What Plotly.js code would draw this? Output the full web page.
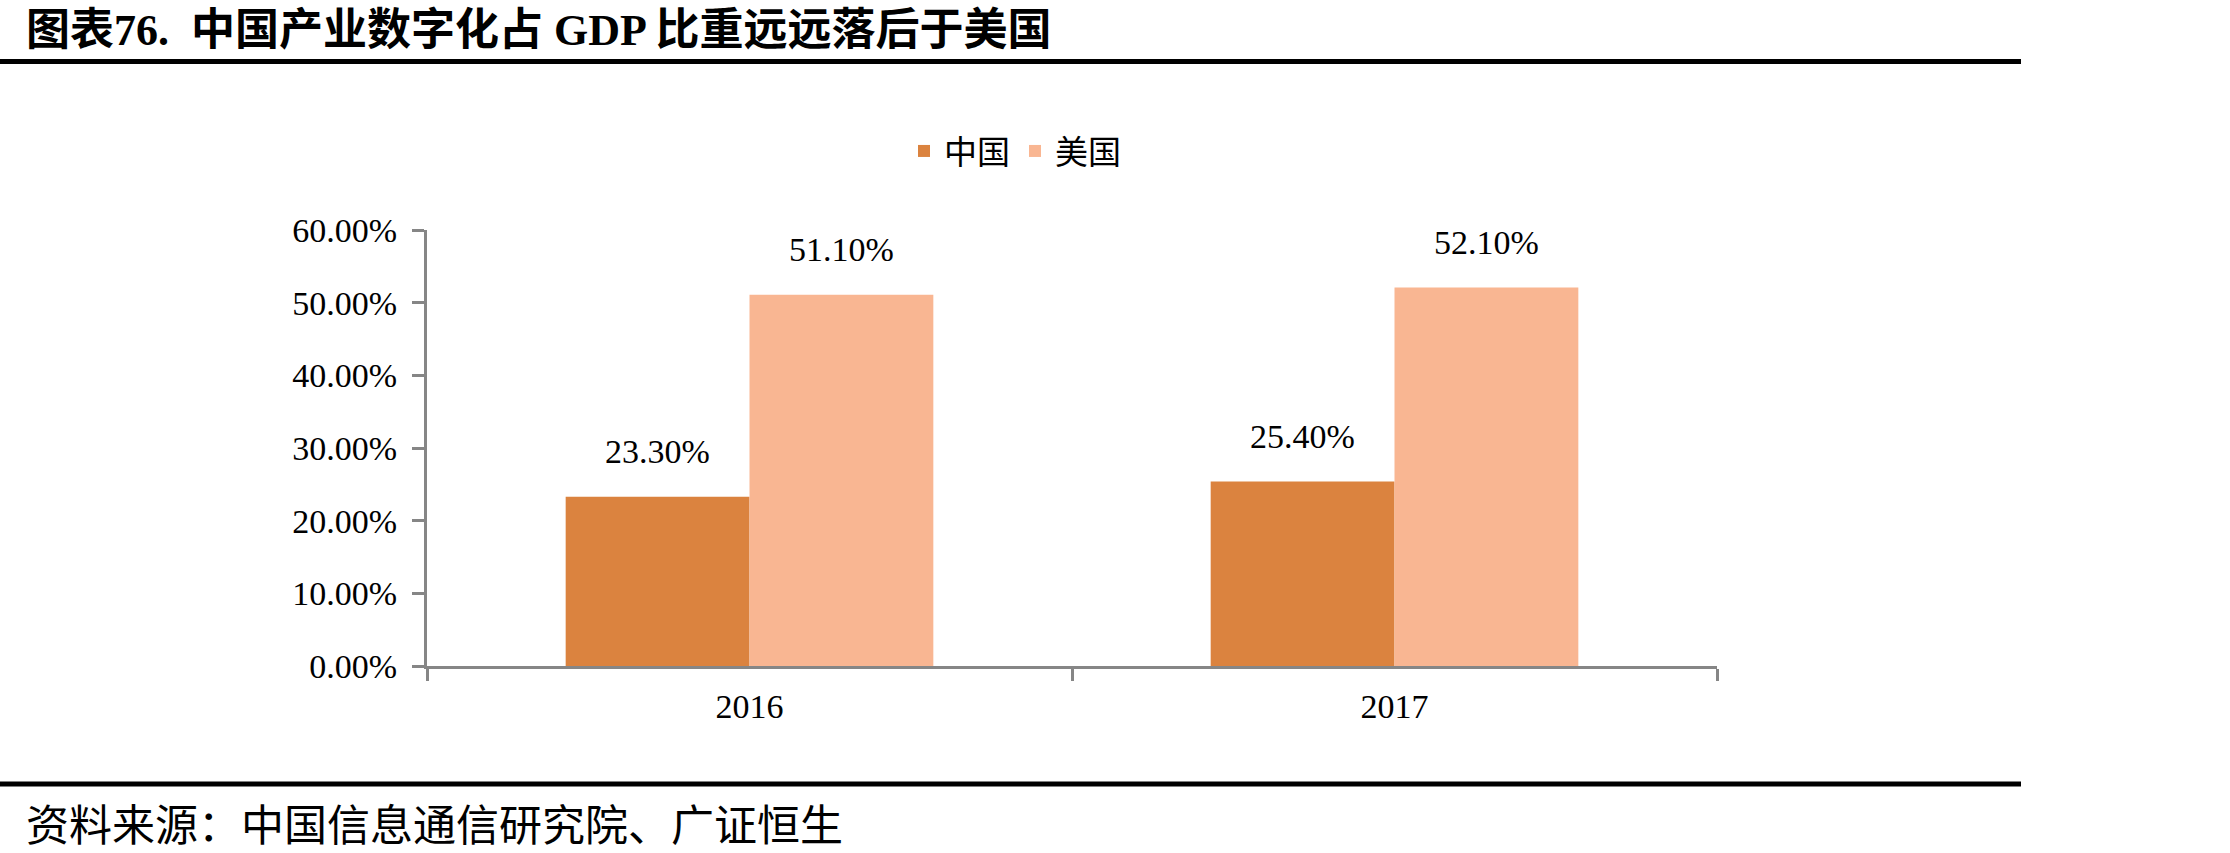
<!DOCTYPE html>
<html>
<head>
<meta charset="utf-8">
<script src="https://cdn.plot.ly/plotly-3.0.1.min.js"></script>
<style>
html,body{margin:0;padding:0;background:#fff;}
#chart{width:2230px;height:853px;}
</style>
</head>
<body>
<div id="chart"></div>
<script>
// Data
const categories = ['2016', '2017'];
const chinaValues = [23.3, 25.4];
const usValues = [51.1, 52.1];
const seriesNames = ['中国', '美国'];
const yTicks = [0, 10, 20, 30, 40, 50, 60];
const titleText = '图表76.  中国产业数字化占 GDP 比重远远落后于美国';
const sourceText = '资料来源：中国信息通信研究院、广证恒生';

// Layout geometry (pixels)
const W = 2230, H = 853;
const mL = 427, mR = W - 1717, mT = 230, mB = H - 666;
const plotW = W - mL - mR, plotH = H - mT - mB;
const px2x = p => (p - mL) / plotW;
const px2y = p => (H - mB - p) / plotH;

const bargap = 0.43;
const serif = '"Liberation Serif", "Noto Sans CJK SC", serif';
const cjk = '"Noto Sans CJK SC", "Liberation Serif", serif';
const colors = ['#DB833F', '#F9B692'];
const axisColor = '#868686';
const numSize = 34;

const traces = [
  {type: 'bar', name: seriesNames[0], x: categories, y: chinaValues,
   marker: {color: colors[0]}, hoverinfo: 'skip'},
  {type: 'bar', name: seriesNames[1], x: categories, y: usValues,
   marker: {color: colors[1]}, hoverinfo: 'skip'}
];

const off = (1 - bargap) / 4;
const annotations = [];
[chinaValues, usValues].forEach((vals, s) => {
  vals.forEach((v, i) => {
    annotations.push({
      x: i + (s === 0 ? -off : off), y: v, xref: 'x', yref: 'y',
      text: v.toFixed(2) + '%', showarrow: false,
      yshift: 45, yanchor: 'middle', xanchor: 'center',
      font: {family: serif, size: numSize, color: '#000'}
    });
  });
});
annotations.push({
  xref: 'paper', yref: 'paper', x: px2x(24), y: px2y(30),
  xanchor: 'left', yanchor: 'middle', showarrow: false,
  text: '<b>' + titleText + '</b>',
  font: {family: serif, size: 44, color: '#000'}
});
annotations.push({
  xref: 'paper', yref: 'paper', x: px2x(24), y: px2y(822),
  xanchor: 'left', yanchor: 'middle', showarrow: false,
  text: sourceText,
  font: {family: cjk, size: 43, color: '#000'}
});

const shapes = [
  {type: 'line', xref: 'paper', yref: 'paper', x0: px2x(0), x1: px2x(2021),
   y0: px2y(61.5), y1: px2y(61.5), line: {color: '#000', width: 5}},
  {type: 'line', xref: 'paper', yref: 'paper', x0: px2x(0), x1: px2x(2021),
   y0: px2y(784), y1: px2y(784), line: {color: '#000', width: 5}}
];

const layout = {
  width: W, height: H,
  margin: {l: mL, r: mR, t: mT, b: mB, pad: 0},
  paper_bgcolor: '#fff', plot_bgcolor: '#fff',
  barmode: 'group', bargap: bargap, bargroupgap: 0,
  showlegend: true,
  legend: {orientation: 'h', x: px2x(1015), xanchor: 'center',
           y: px2y(151), yanchor: 'middle',
           font: {family: cjk, size: 33, color: '#000'},
           itemsizing: 'constant', traceorder: 'normal'},
  xaxis: {type: 'category', showline: true, linecolor: axisColor, linewidth: 3,
          ticks: 'outside', tickson: 'boundaries', ticklen: 12, tickwidth: 3,
          tickcolor: axisColor, showgrid: false, zeroline: false,
          tickfont: {family: serif, size: numSize, color: '#000'},
          ticklabelstandoff: 8, fixedrange: true},
  yaxis: {range: [0, 60], tickvals: yTicks,
          ticktext: yTicks.map(v => v.toFixed(2) + '%'),
          showline: true, linecolor: axisColor, linewidth: 3,
          ticks: 'outside', ticklen: 12, tickwidth: 3, tickcolor: axisColor,
          showgrid: false, zeroline: false,
          tickfont: {family: serif, size: numSize, color: '#000'},
          ticklabelstandoff: 8, fixedrange: true},
  annotations: annotations,
  shapes: shapes
};

Plotly.newPlot('chart', traces, layout, {displayModeBar: false, staticPlot: true});
</script>
</body>
</html>
